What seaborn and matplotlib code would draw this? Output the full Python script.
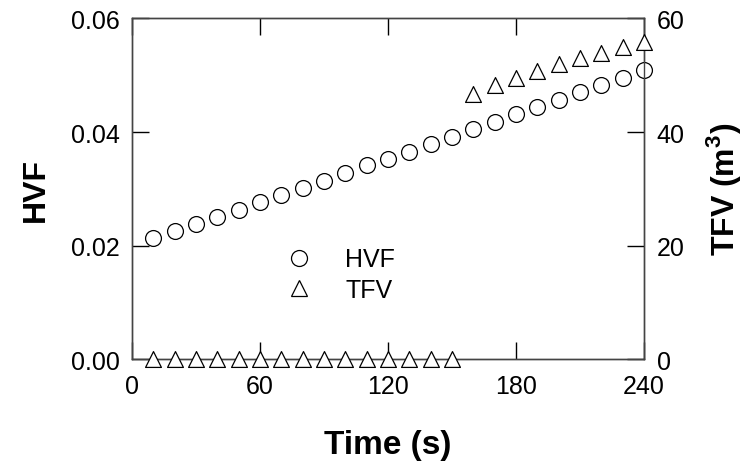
import numpy as np
import pandas as pd
import seaborn as sns
import matplotlib.pyplot as plt
from matplotlib.lines import Line2D

# data
time_s = [10, 20, 30, 40, 50, 60, 70, 80, 90, 100, 110, 120,
          130, 140, 150, 160, 170, 180, 190, 200, 210, 220, 230, 240]
hvf = [0.0213, 0.0226, 0.0238, 0.0250, 0.0263, 0.0276, 0.0289, 0.0301,
       0.0314, 0.0328, 0.0342, 0.0352, 0.0365, 0.0379, 0.0392, 0.0405,
       0.0418, 0.0431, 0.0444, 0.0457, 0.0470, 0.0483, 0.0496, 0.0509]
tfv = [0, 0, 0, 0, 0, 0, 0, 0, 0, 0, 0, 0, 0, 0, 0,
       46.7, 48.3, 49.6, 50.8, 52.0, 53.1, 54.0, 55.0, 55.8]
x_ticks = [0, 60, 120, 180, 240]

df = pd.DataFrame({'Time': time_s, 'HVF': hvf, 'TFV': tfv})

sns.set_style("ticks")
plt.rcParams['font.family'] = ['Liberation Sans', 'DejaVu Sans']
plt.rcParams['mathtext.fontset'] = 'custom'
plt.rcParams['mathtext.bf'] = 'Liberation Sans:bold'
plt.rcParams['xtick.direction'] = 'in'
plt.rcParams['ytick.direction'] = 'in'
plt.rcParams['text.color'] = 'black'
plt.rcParams['axes.labelcolor'] = 'black'

fig = plt.figure(figsize=(7.52, 4.64), dpi=100)
ax = fig.add_axes([0.1755, 0.224, 0.681, 0.734])
ax2 = ax.twinx()

mk = dict(s=130, facecolor='white', edgecolor='black', linewidth=0.9, clip_on=False)
sns.scatterplot(data=df, x='Time', y='HVF', marker='o', ax=ax, zorder=3, **mk)
sns.scatterplot(data=df, x='Time', y='TFV', marker='^', ax=ax2, zorder=3, **mk)

ax.set_xlim(0, 240)
ax.set_ylim(0, 0.06)
ax2.set_ylim(0, 60)
ax.set_xticks(x_ticks)
ax.set_yticks([0, 0.02, 0.04, 0.06])
ax.set_yticklabels(['0.00', '0.02', '0.04', '0.06'])
ax2.set_yticks([0, 20, 40, 60])

for a in (ax, ax2):
    a.tick_params(labelsize=18, length=12, width=1, colors='black', pad=9)
    for sp in a.spines.values():
        sp.set_color('#444444')
        sp.set_linewidth(1)
        sp.set_visible(True)
ax.tick_params(axis='x', top=True, pad=11)

ax.set_xlabel('Time (s)', fontsize=24, fontweight='bold', labelpad=22)
ax.set_ylabel('HVF', fontsize=23, fontweight='bold', labelpad=14)
ax2.set_ylabel(r'TFV (m$^{\mathbf{3}}$)', fontsize=23, fontweight='bold', labelpad=14)

handles = [
    Line2D([], [], marker='o', linestyle='none', markersize=11.5, markerfacecolor='white',
           markeredgecolor='black', markeredgewidth=0.9),
    Line2D([], [], marker='^', linestyle='none', markersize=11.5, markerfacecolor='white',
           markeredgecolor='black', markeredgewidth=0.9),
]
fig.legend(handles, ['HVF', 'TFV'], loc='center left', bbox_to_anchor=(0.335, 0.406),
           frameon=False, fontsize=18, handletextpad=0.84, labelspacing=0.25,
           borderpad=0.4)

fig.savefig('out.png', dpi=100)
